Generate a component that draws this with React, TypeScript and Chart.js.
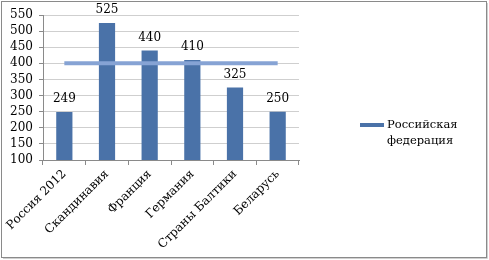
import React, { useEffect, useRef } from "react";
import { Chart, registerables } from "chart.js";

Chart.register(...registerables);

const categories = ["Россия 2012", "Скандинавия", "Франция", "Германия", "Страны Балтики", "Беларусь"];
const seriesName = "Российская федерация";
const legendLines = ["Российская", "федерация"];
const values = [249, 525, 440, 410, 325, 250];
const referenceLine = [400, 400, 400, 400, 400, 400];
const yMin = 100;
const yMax = 550;
const yStep = 50;

const FONT = "'DejaVu Serif', serif";

const framePlugin = {
  id: "frame",
  beforeDraw(chart: any) {
    const { ctx, width, height } = chart;
    ctx.save();
    ctx.fillStyle = "#ffffff";
    ctx.fillRect(0, 0, width, height);
    ctx.strokeStyle = "#8a8a8a";
    ctx.lineWidth = 1;
    ctx.strokeRect(1.5, 1.5, width - 4, height - 4);
    ctx.strokeStyle = "#d0d0d0";
    ctx.beginPath();
    ctx.moveTo(width - 1.5, 3);
    ctx.lineTo(width - 1.5, height - 1.5);
    ctx.lineTo(3, height - 1.5);
    ctx.stroke();
    ctx.restore();
  },
};

const labelPlugin = {
  id: "barLabels",
  afterDatasetsDraw(chart: any) {
    const { ctx } = chart;
    const meta = chart.getDatasetMeta(0);
    ctx.save();
    ctx.font = `12px ${FONT}`;
    ctx.fillStyle = "#000000";
    ctx.textAlign = "center";
    ctx.textBaseline = "bottom";
    meta.data.forEach((el: any, i: number) => {
      ctx.fillText(String(values[i]), el.x, el.y - 7);
    });
    ctx.restore();
  },
};

const legendPlugin = {
  id: "sideLegend",
  afterDraw(chart: any) {
    const { ctx } = chart;
    ctx.save();
    ctx.fillStyle = "#4a72a8";
    ctx.fillRect(360, 123, 24, 4);
    ctx.font = `11.5px ${FONT}`;
    ctx.fillStyle = "#000000";
    ctx.textAlign = "left";
    ctx.textBaseline = "middle";
    legendLines.forEach((t, i) => ctx.fillText(t, 387, 125 + i * 16));
    ctx.restore();
  },
};

export default function App() {
  const ref = useRef<HTMLCanvasElement>(null);
  useEffect(() => {
    document.body.style.margin = "0";
    const chart = new Chart(ref.current as HTMLCanvasElement, {
      type: "bar",
      data: {
        labels: categories,
        datasets: [
          {
            type: "bar",
            label: seriesName,
            data: values,
            backgroundColor: "#4a72a8",
            barPercentage: 0.76,
            categoryPercentage: 0.5,
            order: 2,
          } as any,
          {
            type: "line",
            label: "",
            data: referenceLine,
            borderColor: "#86a3d4",
            borderWidth: 4,
            pointRadius: 0,
            fill: false,
            order: 1,
          } as any,
        ],
      },
      options: {
        responsive: false,
        animation: false,
        layout: { padding: { top: 15, right: 190, bottom: 0, left: 0 } },
        plugins: {
          legend: { display: false },
          tooltip: { enabled: false },
        },
        scales: {
          x: {
            offset: true,
            grid: {
              offset: true,
              drawOnChartArea: false,
              drawTicks: true,
              tickLength: 5,
              color: "#8a8a8a",
            },
            border: { color: "#8a8a8a" },
            ticks: {
              minRotation: 45,
              maxRotation: 45,
              autoSkip: false,
              color: "#000000",
              font: { family: FONT, size: 12 },
              padding: 2,
            },
            afterFit(scale: any) {
              scale.height = 100;
            },
          },
          y: {
            min: yMin,
            max: yMax,
            ticks: {
              stepSize: yStep,
              autoSkip: false,
              color: "#000000",
              font: { family: FONT, size: 12 },
              padding: 6,
            },
            grid: { color: "#cfcfcf", tickLength: 4, tickColor: "#8a8a8a" },
            border: { color: "#8a8a8a" },
            afterFit(scale: any) {
              scale.width = 43;
            },
          },
        },
      },
      plugins: [framePlugin, labelPlugin, legendPlugin],
    });
    return () => chart.destroy();
  }, []);
  return <canvas ref={ref} width={489} height={260} style={{ display: "block" }} />;
}
